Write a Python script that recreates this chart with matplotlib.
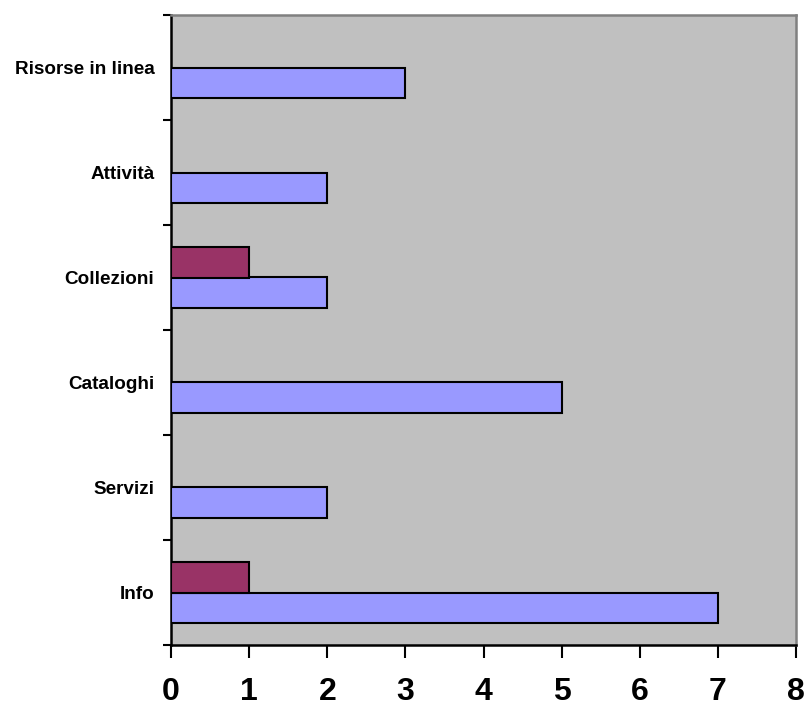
import numpy as np
import matplotlib
matplotlib.use("Agg")
import matplotlib.pyplot as plt

categories = ["Info", "Servizi", "Cataloghi", "Collezioni", "Attività", "Risorse in linea"]
series_blue = [7, 2, 5, 2, 2, 3]
series_maroon = [1, 0, 0, 1, 0, 0]
x_ticks = [0, 1, 2, 3, 4, 5, 6, 7, 8]

plt.rcParams['font.family'] = ['Liberation Sans', 'DejaVu Sans']

fig = plt.figure(figsize=(8.08, 7.06), dpi=100)
ax = fig.add_axes([171/808, 1 - 645/706, (796-171)/808, (645-15)/706])
ax.set_facecolor('#C0C0C0')

centers = np.arange(len(categories)) + 0.5
h = 0.286
blue = np.array(series_blue, dtype=float)
maroon = np.array(series_maroon, dtype=float)

ax.barh(centers - h/2, blue, height=h, color='#9999FF', edgecolor='black', linewidth=1.5, zorder=3)
mask = maroon > 0
ax.barh(centers[mask] + h/2, maroon[mask], height=h, color='#993366', edgecolor='black', linewidth=1.5, zorder=3)

ax.set_xlim(0, 8)
ax.set_ylim(0, len(categories))
ax.set_xticks(x_ticks)
ax.set_xticklabels([str(t) for t in x_ticks], fontsize=23, fontweight='bold')
ax.tick_params(axis='x', length=9, width=1.5, pad=14, direction='out')

ax.set_yticks(centers)
ax.set_yticklabels(categories, fontsize=13.6, fontweight='bold')
ax.tick_params(axis='y', which='major', length=0, pad=12)
ax.set_yticks(np.arange(len(categories) + 1), minor=True)
ax.tick_params(axis='y', which='minor', length=6, width=1.5, direction='out')

for s in ['left', 'bottom']:
    ax.spines[s].set_color('black')
    ax.spines[s].set_linewidth(1.8)
for s in ['top', 'right']:
    ax.spines[s].set_color('#808080')
    ax.spines[s].set_linewidth(1.8)

fig.savefig('out.png', dpi=100, facecolor='white')
